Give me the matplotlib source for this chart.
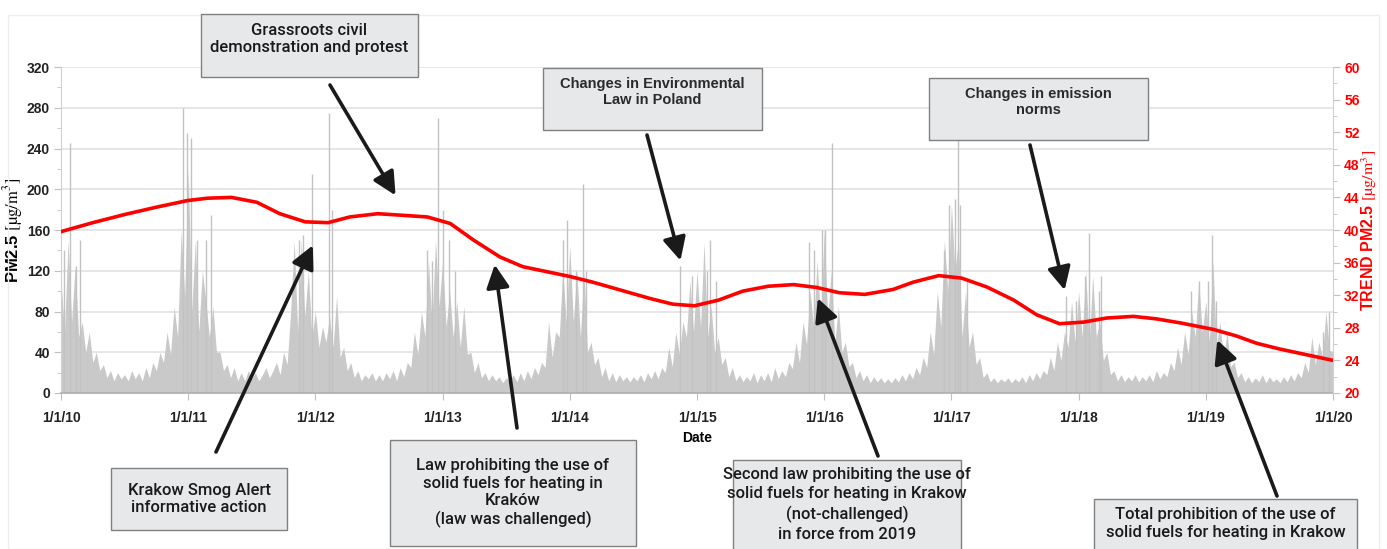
import numpy as np
import matplotlib
matplotlib.use("Agg")
import matplotlib.pyplot as plt
from matplotlib.patches import Rectangle

# ---------------------------------------------------------------------------
# PM2.5 Krakow 2010-2019 : niveaux sur ~10 jours (36 pas / an, janv -> dec)
# ---------------------------------------------------------------------------
YEARS = list(range(2010, 2020))
PM_2010 = [110, 60, 150, 70, 125, 55, 70, 40, 60, 30, 40, 22, 28, 15, 22, 12, 20, 14,
           18, 12, 22, 14, 20, 12, 25, 15, 30, 22, 40, 30, 60, 38, 85, 55, 160, 95]
PM_2011 = [220, 80, 150, 60, 120, 90, 55, 85, 40, 40, 22, 28, 15, 25, 12, 20, 12, 22,
           14, 20, 12, 18, 25, 15, 22, 30, 18, 40, 28, 80, 150, 60, 150, 75, 120, 55]
PM_2012 = [80, 45, 65, 50, 75, 45, 95, 35, 45, 22, 30, 15, 22, 12, 18, 14, 20, 12,
           18, 12, 20, 14, 22, 12, 25, 16, 30, 25, 60, 38, 80, 55, 130, 70, 150, 85]
PM_2013 = [130, 65, 100, 55, 90, 45, 85, 38, 40, 20, 30, 15, 20, 12, 18, 12, 16, 10,
           15, 12, 18, 11, 20, 12, 22, 14, 25, 18, 30, 25, 70, 35, 60, 55, 120, 70]
PM_2014 = [145, 70, 120, 55, 120, 40, 50, 28, 35, 16, 25, 12, 20, 11, 18, 12, 16, 11,
           16, 12, 18, 11, 20, 14, 22, 14, 25, 20, 45, 26, 60, 38, 70, 55, 110, 60]
PM_2015 = [120, 65, 148, 55, 85, 40, 55, 28, 35, 16, 25, 12, 18, 11, 16, 12, 20, 10,
           18, 12, 20, 11, 25, 14, 22, 16, 30, 24, 50, 30, 70, 48, 100, 65, 130, 70]
PM_2016 = [160, 75, 120, 50, 85, 40, 50, 26, 30, 15, 22, 12, 18, 10, 16, 11, 15, 10,
           14, 10, 15, 11, 18, 12, 20, 14, 25, 18, 35, 25, 60, 38, 100, 65, 150, 100]
PM_2017 = [185, 120, 150, 55, 100, 45, 60, 28, 35, 15, 20, 11, 15, 10, 14, 11, 15, 10,
           14, 11, 16, 10, 18, 12, 20, 14, 22, 18, 35, 22, 50, 32, 60, 45, 90, 50]
PM_2018 = [100, 55, 120, 50, 115, 55, 70, 32, 40, 18, 22, 12, 18, 11, 16, 12, 18, 11,
           16, 12, 18, 11, 22, 14, 20, 16, 30, 22, 45, 28, 60, 38, 80, 55, 110, 60]
PM_2019 = [90, 50, 130, 45, 70, 32, 60, 26, 30, 15, 20, 11, 16, 10, 15, 11, 18, 10,
           16, 11, 14, 10, 16, 11, 18, 12, 20, 15, 30, 20, 55, 28, 50, 36, 80, 42]
PM_END = 40

# pics journaliers isoles (date decimale, valeur)
SPIKE_DATES = [2010.02, 2010.07, 2010.12, 2010.15, 2010.96, 2010.99, 2011.02, 2011.07,
               2011.14, 2011.18, 2011.87, 2011.90, 2011.97, 2012.11, 2012.13, 2012.88,
               2012.92, 2012.96, 2013.00, 2013.05, 2013.10, 2013.95, 2013.98, 2014.05,
               2014.10, 2014.13, 2014.87, 2014.96, 2015.08, 2015.10, 2015.15, 2015.88,
               2015.92, 2015.98, 2016.01, 2016.06, 2016.94, 2016.98, 2017.03, 2017.05,
               2017.07, 2017.12, 2017.90, 2017.98, 2018.05, 2018.08, 2018.16, 2018.18,
               2018.88, 2018.95, 2019.02, 2019.05, 2019.08, 2019.92, 2019.97]
SPIKE_VALUES = [140, 245, 125, 150, 280, 255, 250, 150,
                150, 175, 150, 155, 215, 275, 180, 140,
                130, 270, 180, 150, 120, 150, 170, 120,
                205, 120, 125, 115, 120, 150, 110, 148,
                140, 160, 160, 245, 140, 185, 190, 260,
                185, 110, 95, 90, 115, 157, 100, 115,
                100, 110, 110, 155, 90, 60, 80]

# tendance (axe droit)
TREND_DATES = [2010.00, 2010.25, 2010.50, 2010.75, 2010.99, 2011.15, 2011.34, 2011.54,
               2011.72, 2011.92, 2012.10, 2012.27, 2012.49, 2012.69, 2012.88, 2013.06,
               2013.24, 2013.45, 2013.63, 2014.00, 2014.18, 2014.45, 2014.63, 2014.81,
               2014.98, 2015.17, 2015.36, 2015.56, 2015.76, 2015.94, 2016.12, 2016.32,
               2016.54, 2016.70, 2016.90, 2017.08, 2017.28, 2017.49, 2017.67, 2017.85,
               2018.04, 2018.22, 2018.43, 2018.61, 2018.80, 2019.06, 2019.24, 2019.40,
               2019.58, 2019.79, 2020.00]
TREND_VALUES = [39.8, 40.9, 41.9, 42.8, 43.6, 43.9, 44.0, 43.4,
                42.0, 41.0, 40.9, 41.6, 42.0, 41.8, 41.6, 40.8,
                38.8, 36.7, 35.5, 34.3, 33.6, 32.4, 31.6, 30.9,
                30.7, 31.4, 32.5, 33.1, 33.3, 32.95, 32.3, 32.1,
                32.7, 33.6, 34.4, 34.1, 33.0, 31.4, 29.6, 28.5,
                28.7, 29.2, 29.4, 29.1, 28.6, 27.8, 27.0, 26.1,
                25.4, 24.7, 24.0]

X_LABELS = ["1/1/%02d" % (y % 100) for y in range(2010, 2021)]

# evenements : (texte, date, valeur pointee, queue fleche [px], boite [px img], va, gras, interligne)
EVENTS = [
    ("Grassroots civil\ndemonstration and protest", 2012.63, 194, (330, 85),
     (201, 14, 418, 77), "top", False, 1.15),
    ("Changes in Environmental\nLaw in Poland", 2014.87, 130, (647, 135),
     (543, 68, 762, 130), "top", True, 1.15),
    ("Changes in emission\nnorms", 2017.89, 101, (1030, 145),
     (929, 78, 1148, 140), "top", True, 1.15),
    ("Krakow Smog Alert\ninformative action", 2011.98, 145, (216, 452),
     (111, 468, 287, 530), "center", False, 1.15),
    ("Law prohibiting the use of\nsolid fuels for heating in\nKraków\n(law was challenged)",
     2013.41, 126, (517, 428), (390, 440, 636, 546), "center", False, 1.2),
    ("Second law prohibiting the use of\nsolid fuels for heating in Krakow\n"
     "(not-challenged)\nin force from 2019", 2015.95, 93, (878, 456),
     (733, 460, 961, 552), "center", False, 1.35),
    ("Total prohibition of the use of\nsolid fuels for heating in Krakow", 2019.09, 52,
     (1277, 496), (1094, 499, 1357, 552), "center", False, 1.25),
]

W, H = 1387, 549
plt.rcParams["font.family"] = ["Liberation Sans", "DejaVu Sans"]
plt.rcParams["mathtext.fontset"] = "stix"
NARROW = ["Roboto", "Liberation Sans", "DejaVu Sans"]

fig = plt.figure(figsize=(W / 100, H / 100), dpi=100)
ax = fig.add_axes([61 / W, 1 - 393 / H, (1333 - 61) / W, (393 - 67) / H])

# serie PM2.5
pm = np.concatenate([PM_2010, PM_2011, PM_2012, PM_2013, PM_2014,
                     PM_2015, PM_2016, PM_2017, PM_2018, PM_2019, [PM_END]])
dates = np.concatenate([y + np.arange(36) / 36.0 for y in YEARS] + [[2020.0]])
ax.fill_between(dates, 0, pm, color="#c9c9c9", lw=0, zorder=2)
ax.vlines(SPIKE_DATES, 0, SPIKE_VALUES, color="#c2c2c2", lw=1.0, zorder=2)

ax.set_xlim(2010, 2020)
ax.set_ylim(0, 320)
ax.set_yticks(np.arange(0, 321, 40))
ax.set_yticks(np.arange(0, 321, 20), minor=True)
ax.set_xticks(np.arange(2010, 2021))
ax.set_xticklabels(X_LABELS)
ax.grid(axis="y", color="#e2e2e2", lw=1.2, zorder=0)
ax.set_axisbelow(True)
for s in ("top", "right"):
    ax.spines[s].set_visible(False)
ax.spines["left"].set_color("#d0d0d0")
ax.spines["bottom"].set_color("#b0b0b0")
ax.spines["bottom"].set_linewidth(1.2)
ax.tick_params(axis="both", which="both", colors="#c0c0c0", labelcolor="#222222")
ax.tick_params(axis="y", which="major", length=5, labelsize=10, pad=3)
ax.tick_params(axis="y", which="minor", length=3)
ax.tick_params(axis="x", length=5, labelsize=10, pad=8)
for lab in ax.get_xticklabels() + ax.get_yticklabels():
    lab.set_fontweight("bold")
ax.set_xlabel("Date", fontsize=10, fontweight="bold", labelpad=4)
ax.set_ylabel(r"PM2.5 $[\mathrm{µg/m^3}]$", fontsize=12, fontweight="bold", labelpad=1)

# tendance, axe droit
ax2 = ax.twinx()
ax2.plot(TREND_DATES, TREND_VALUES, color="#ff0000", lw=2.6, zorder=4)
ax2.set_ylim(20, 60)
ax2.set_yticks(np.arange(20, 61, 4))
ax2.set_yticks(np.arange(20, 61, 2), minor=True)
for s in ("top", "left", "bottom"):
    ax2.spines[s].set_visible(False)
ax2.spines["right"].set_color("#d0d0d0")
ax2.tick_params(axis="y", which="both", colors="#c0c0c0", labelcolor="#ff0000")
ax2.tick_params(axis="y", which="major", length=5, labelsize=10, pad=3)
ax2.tick_params(axis="y", which="minor", length=3)
for lab in ax2.get_yticklabels():
    lab.set_fontweight("bold")
ax2.set_ylabel(r"TREND PM2.5 $[\mathrm{µg/m^3}]$", fontsize=11.5, fontweight="bold",
               color="#ff0000", labelpad=0)

# cadre leger du graphique
fig.patches.append(Rectangle((8 / W, 0), 1 - 16 / W, 1 - 15 / H, transform=fig.transFigure,
                             fill=False, edgecolor="#ededed", lw=1, zorder=0))

# boites + fleches des evenements
for text, d, v, (tx, ty), (x0, y0, x1, y1), va, bold, lsp in EVENTS:
    fig.patches.append(Rectangle((x0 / W, 1 - y1 / H), (x1 - x0) / W, (y1 - y0) / H,
                                 transform=fig.transFigure, facecolor="#e7e8e9",
                                 edgecolor="#808080", lw=1.0, zorder=5))
    cx = (x0 + x1) / 2
    if va == "top":
        ty_txt = y0 + 9
    else:
        ty_txt = (y0 + min(y1, H)) / 2
    if bold:
        fig.text(cx / W, 1 - ty_txt / H, text, ha="center", va=va, fontsize=10.5,
                 fontweight="bold", color="#2a2a2a", linespacing=lsp, zorder=6)
    else:
        fig.text(cx / W, 1 - ty_txt / H, text, ha="center", va=va, fontsize=12,
                 family=NARROW, fontweight="medium", color="#1a1a1a",
                 linespacing=lsp, zorder=6)
    ax.annotate("", xy=(d, v), xycoords="data", xytext=(tx, H - ty),
                textcoords="figure pixels", annotation_clip=False, zorder=7,
                arrowprops=dict(arrowstyle="-|>,head_length=0.7,head_width=0.35",
                                mutation_scale=20, lw=2.6, color="#1a1a1a",
                                shrinkA=0, shrinkB=0))

fig.savefig("out.png", dpi=100)
